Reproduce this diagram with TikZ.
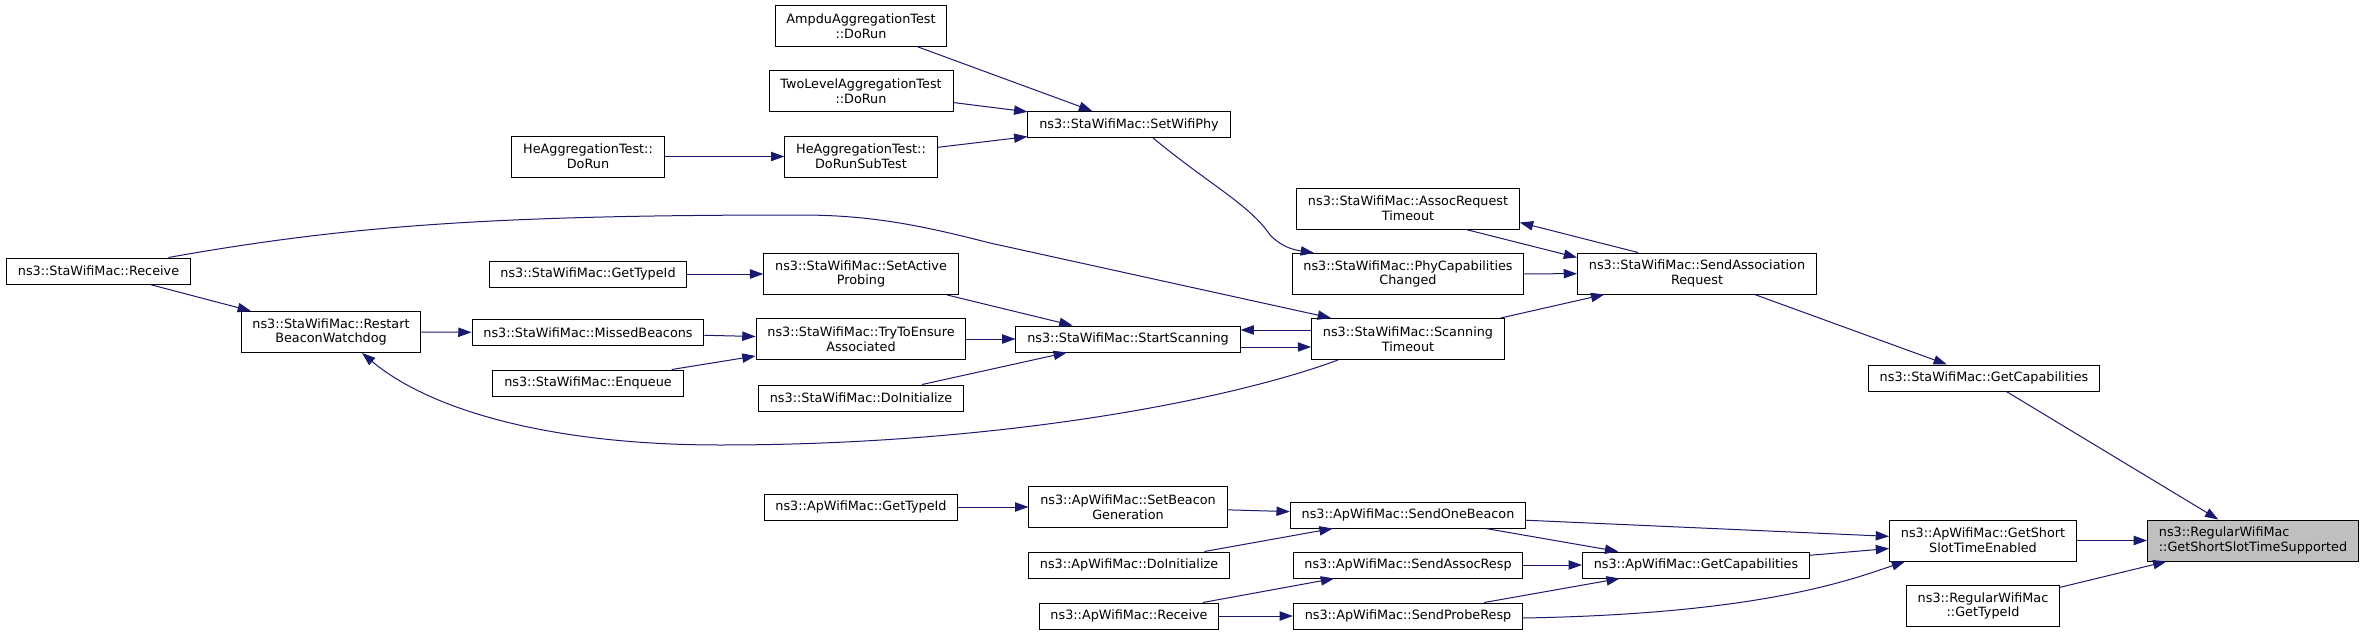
\documentclass[tikz,border=0pt]{standalone}
\usepackage{fontspec}
\setmainfont{DejaVu Sans}
\usetikzlibrary{arrows.meta,calc}
\definecolor{edgeblue}{HTML}{191970}
\definecolor{rootgray}{HTML}{BFBFBF}
\begin{document}
\begin{tikzpicture}[x=0.75pt,y=-0.75pt,
  fn/.style={draw=black,line width=0.75pt,fill=white,inner xsep=8.5pt,inner ysep=0pt,
    minimum height=19.5pt,align=center,font=\fontsize{9.6}{11}\selectfont},
  fn2/.style={fn,minimum height=30.75pt},
  rootfn/.style={fn2,fill=rootgray,align=left},
  call/.style={draw=edgeblue,line width=0.75pt,-{Triangle[length=10pt,width=7pt]}}]
\useasboundingbox[fill=white] (0,0) rectangle (2364,635);

% ---- Sta side ----
\node[fn2] (ampdu) at (861,26) {AmpduAggregationTest\\::DoRun};
\node[fn2] (twolevel) at (861,91) {TwoLevelAggregationTest\\::DoRun};
\node[fn2] (hesub) at (861,156.5) {HeAggregationTest::\\DoRunSubTest};
\node[fn2] (hedorun) at (588,156.5) {HeAggregationTest::\\DoRun};
\node[fn] (setwifiphy) at (1129,124.5) {ns3::StaWifiMac::SetWifiPhy};
\node[fn2] (assocto) at (1408,208.5) {ns3::StaWifiMac::AssocRequest\\Timeout};
\node[fn2] (phycap) at (1408,274) {ns3::StaWifiMac::PhyCapabilities\\Changed};
\node[fn2] (sendassoc) at (1697,273.5) {ns3::StaWifiMac::SendAssociation\\Request};
\node[fn] (stareceive) at (98.5,271) {ns3::StaWifiMac::Receive};
\node[fn] (stagettypeid) at (588,274) {ns3::StaWifiMac::GetTypeId};
\node[fn2] (setactive) at (861,274) {ns3::StaWifiMac::SetActive\\Probing};
\node[fn2] (restart) at (331,332) {ns3::StaWifiMac::Restart\\BeaconWatchdog};
\node[fn] (missed) at (588,332.5) {ns3::StaWifiMac::MissedBeacons};
\node[fn2] (trytoensure) at (861,339) {ns3::StaWifiMac::TryToEnsure\\Associated};
\node[fn] (startscan) at (1128,339) {ns3::StaWifiMac::StartScanning};
\node[fn2] (scantimeout) at (1408,339) {ns3::StaWifiMac::Scanning\\Timeout};
\node[fn] (enqueue) at (588,383) {ns3::StaWifiMac::Enqueue};
\node[fn] (stadoinit) at (861,398) {ns3::StaWifiMac::DoInitialize};
\node[fn] (stagetcap) at (1984,378) {ns3::StaWifiMac::GetCapabilities};

% ---- Ap side ----
\node[fn] (apgettypeid) at (861,507) {ns3::ApWifiMac::GetTypeId};
\node[fn2] (setbeacon) at (1128,507) {ns3::ApWifiMac::SetBeacon\\Generation};
\node[fn] (sendonebeacon) at (1408,515) {ns3::ApWifiMac::SendOneBeacon};
\node[fn] (apdoinit) at (1129,565) {ns3::ApWifiMac::DoInitialize};
\node[fn] (sendassocresp) at (1408,565) {ns3::ApWifiMac::SendAssocResp};
\node[fn] (apgetcap) at (1696,565) {ns3::ApWifiMac::GetCapabilities};
\node[fn] (apreceive) at (1129,616) {ns3::ApWifiMac::Receive};
\node[fn] (sendprobe) at (1408,616) {ns3::ApWifiMac::SendProbeResp};
\node[fn2] (getshortenabled) at (1983,540.5) {ns3::ApWifiMac::GetShort\\SlotTimeEnabled};
\node[rootfn] (target) at (2253,540.5) {ns3::RegularWifiMac\\::GetShortSlotTimeSupported};
\node[fn2] (reggettypeid) at (1983,606) {ns3::RegularWifiMac\\::GetTypeId};

% ---- edges ----
\draw[call] (ampdu) -- (setwifiphy);
\draw[call] (twolevel) -- (setwifiphy);
\draw[call] (hesub) -- (setwifiphy);
\draw[call] (hedorun) -- (hesub);
\draw[call] ($(setwifiphy.south)+(24,0)$) .. controls (1210,185) and (1250,205) .. (1270,235)
   .. controls (1283,248) and (1295,250) .. ($(phycap.north)+(-94,0)$);
\draw[call] ($(assocto.south)+(58,0)$) -- ($(sendassoc.west)+(0,-16)$);
\draw[call] ($(sendassoc.north)+(-59,0)$) -- ($(assocto.east)+(0,14)$);
\draw[call] (phycap) -- (sendassoc);
\draw[call] (scantimeout) -- (sendassoc);
\draw[call] (sendassoc) -- (stagetcap);
\draw[call] (stagetcap) -- (target);
\draw[call] ($(stareceive.north)+(70,0)$) .. controls (350,225) and (500,215) .. (800,215)
   .. controls (870,215) and (920,225) .. (990,243) -- ($(scantimeout.north)+(-77,0)$);
\draw[call] (stareceive) -- (restart);
\draw[call] ($(scantimeout.south)+(-70,0)$) .. controls (1230,400) and (1000,445) .. (720,445)
   .. controls (550,445) and (430,410) .. ($(restart.south)+(31,0)$);
\draw[call] (restart) -- (missed);
\draw[call] (missed) -- (trytoensure);
\draw[call] (enqueue) -- (trytoensure);
\draw[call] (stagettypeid) -- (setactive);
\draw[call] (setactive) -- (startscan);
\draw[call] (trytoensure) -- (startscan);
\draw[call] (stadoinit) -- (startscan);
\draw[call] ($(scantimeout.west)+(0,-9)$) -- ($(startscan.east)+(0,-9)$);
\draw[call] ($(startscan.east)+(0,8)$) -- ($(scantimeout.west)+(0,8)$);

\draw[call] (apgettypeid) -- (setbeacon);
\draw[call] (setbeacon) -- (sendonebeacon);
\draw[call] (apdoinit) -- (sendonebeacon);
\draw[call] (sendonebeacon) -- (getshortenabled);
\draw[call] (sendonebeacon) -- (apgetcap);
\draw[call] (sendassocresp) -- (apgetcap);
\draw[call] (apreceive) -- (sendassocresp);
\draw[call] (apreceive) -- (sendprobe);
\draw[call] (sendprobe) -- (apgetcap);
\draw[call] (apgetcap) -- (getshortenabled);
\draw[call] ($(sendprobe.east)+(0,2)$) .. controls (1760,614) and (1850,580) .. ($(getshortenabled.south west)+(16,0)$);
\draw[call] (getshortenabled) -- (target);
\draw[call] (reggettypeid) -- (target);
\end{tikzpicture}
\end{document}
